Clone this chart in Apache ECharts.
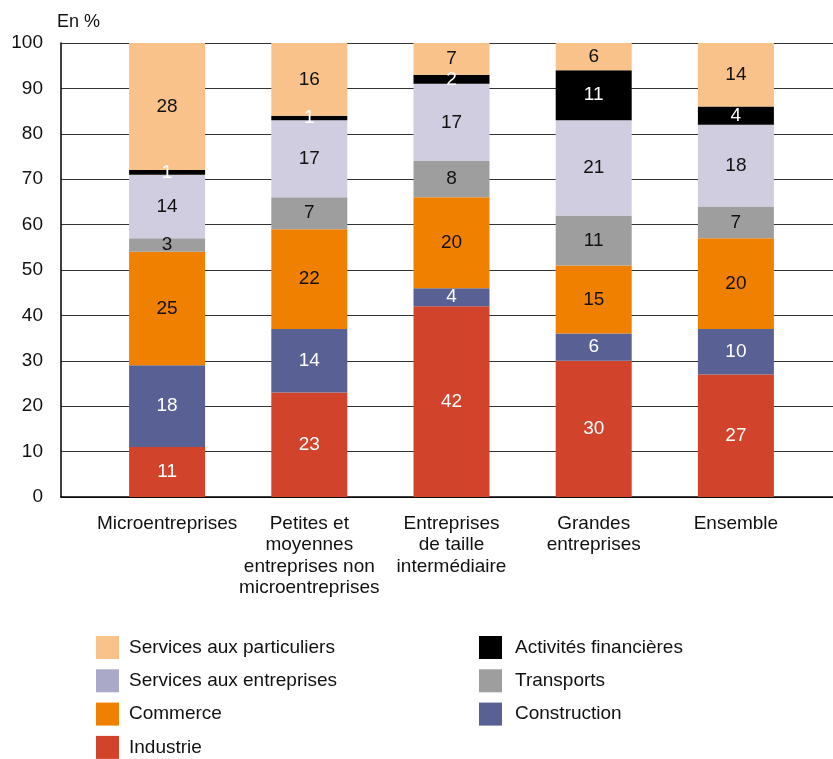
<!DOCTYPE html>
<html>
<head>
<meta charset="utf-8">
<script src="https://cdn.jsdelivr.net/npm/echarts@6/dist/echarts.min.js"></script>
<style>
  html, body { margin: 0; padding: 0; background: #fff; }
  #chart { width: 833px; height: 759px; }
</style>
</head>
<body>
<div id="chart"></div>
<script>
// Répartition des effectifs par secteur, selon la catégorie d'entreprise (en %)
const categories = [
  'Microentreprises',
  'Petites et\nmoyennes\nentreprises non\nmicroentreprises',
  'Entreprises\nde taille\nintermédiaire',
  'Grandes\nentreprises',
  'Ensemble'
];
const industrie            = [11, 23, 42, 30, 27];
const construction         = [18, 14, 4, 6, 10];
const commerce             = [25, 22, 20, 15, 20];
const transports           = [3, 7, 8, 11, 7];
const servicesEntreprises  = [14, 17, 17, 21, 18];
const activitesFinancieres = [1, 1, 2, 11, 4];
const servicesParticuliers = [28, 16, 7, 6, 14];
const yTicks = [0, 10, 20, 30, 40, 50, 60, 70, 80, 90, 100];

const FONT = '"Liberation Sans", Arial, sans-serif';

const seriesDefs = [
  { name: 'Industrie', data: industrie, color: '#D1432B', label: '#ffffff' },
  { name: 'Construction', data: construction, color: '#586094', label: '#ffffff' },
  { name: 'Commerce', data: commerce, color: '#EF8000', label: '#111111' },
  { name: 'Transports', data: transports, color: '#9E9E9E', label: '#111111' },
  { name: 'Services aux entreprises', data: servicesEntreprises, color: '#D0CDE1', label: '#111111' },
  { name: 'Activités financières', data: activitesFinancieres, color: '#000000', label: '#ffffff' },
  { name: 'Services aux particuliers', data: servicesParticuliers, color: '#F9C28B', label: '#111111' }
];

const chart = echarts.init(document.getElementById('chart'));

const legendBase = {
  orient: 'vertical',
  top: 636,
  padding: 0,
  height: 140,
  itemWidth: 23,
  itemHeight: 23,
  itemGap: 10.3,
  icon: 'rect',
  selectedMode: false
};

chart.setOption({
  backgroundColor: '#ffffff',
  animation: false,
  title: {
    text: 'En %',
    left: 52,
    top: 8,
    textStyle: { fontFamily: FONT, fontSize: 18, fontWeight: 'normal', color: '#111' }
  },
  legend: [
    Object.assign({}, legendBase, {
      left: 96,
      textStyle: { fontFamily: FONT, fontSize: 19, color: '#111', padding: [0, 0, 0, 5] },
      data: [
        'Services aux particuliers',
        { name: 'Services aux entreprises', itemStyle: { color: '#ABA9C8' } },
        'Commerce',
        'Industrie'
      ]
    }),
    Object.assign({}, legendBase, {
      left: 479,
      textStyle: { fontFamily: FONT, fontSize: 19, color: '#111', padding: [0, 0, 0, 8] },
      data: ['Activités financières', 'Transports', 'Construction']
    })
  ],
  grid: [
    { left: 61, right: 0, top: 43, bottom: 262 },
    { left: 96, right: 26, top: 43, bottom: 262 }
  ],
  xAxis: [
    {
      gridIndex: 0,
      type: 'value',
      min: 0,
      max: 1,
      axisLine: { show: true, lineStyle: { color: '#000', width: 1.5 } },
      axisTick: { show: false },
      axisLabel: { show: false },
      splitLine: { show: false }
    },
    {
      gridIndex: 1,
      type: 'category',
      data: categories,
      axisLine: { show: false },
      axisTick: { show: false },
      axisLabel: {
        margin: 16,
        fontFamily: FONT,
        fontSize: 19,
        lineHeight: 21.5,
        color: '#111',
        interval: 0,
        align: 'center'
      }
    }
  ],
  yAxis: [
    {
      gridIndex: 0,
      type: 'value',
      min: 0,
      max: 100,
      interval: 10,
      axisLine: { show: true, lineStyle: { color: '#000', width: 1.5 } },
      axisTick: { show: false },
      axisLabel: {
        margin: 18,
        fontFamily: FONT,
        fontSize: 19,
        color: '#111',
        formatter: v => (yTicks.indexOf(v) >= 0 ? String(v) : '')
      },
      splitLine: { show: true, lineStyle: { color: '#333', width: 1 } }
    },
    {
      gridIndex: 1,
      type: 'value',
      min: 0,
      max: 100,
      show: false,
      splitLine: { show: false }
    }
  ],
  series: seriesDefs.map(s => ({
    name: s.name,
    type: 'bar',
    stack: 'total',
    xAxisIndex: 1,
    yAxisIndex: 1,
    barWidth: 76,
    data: s.data,
    itemStyle: { color: s.color },
    label: {
      show: true,
      position: 'inside',
      fontFamily: FONT,
      fontSize: 19,
      color: s.label,
      formatter: p => String(p.value)
    }
  }))
});
</script>
</body>
</html>
